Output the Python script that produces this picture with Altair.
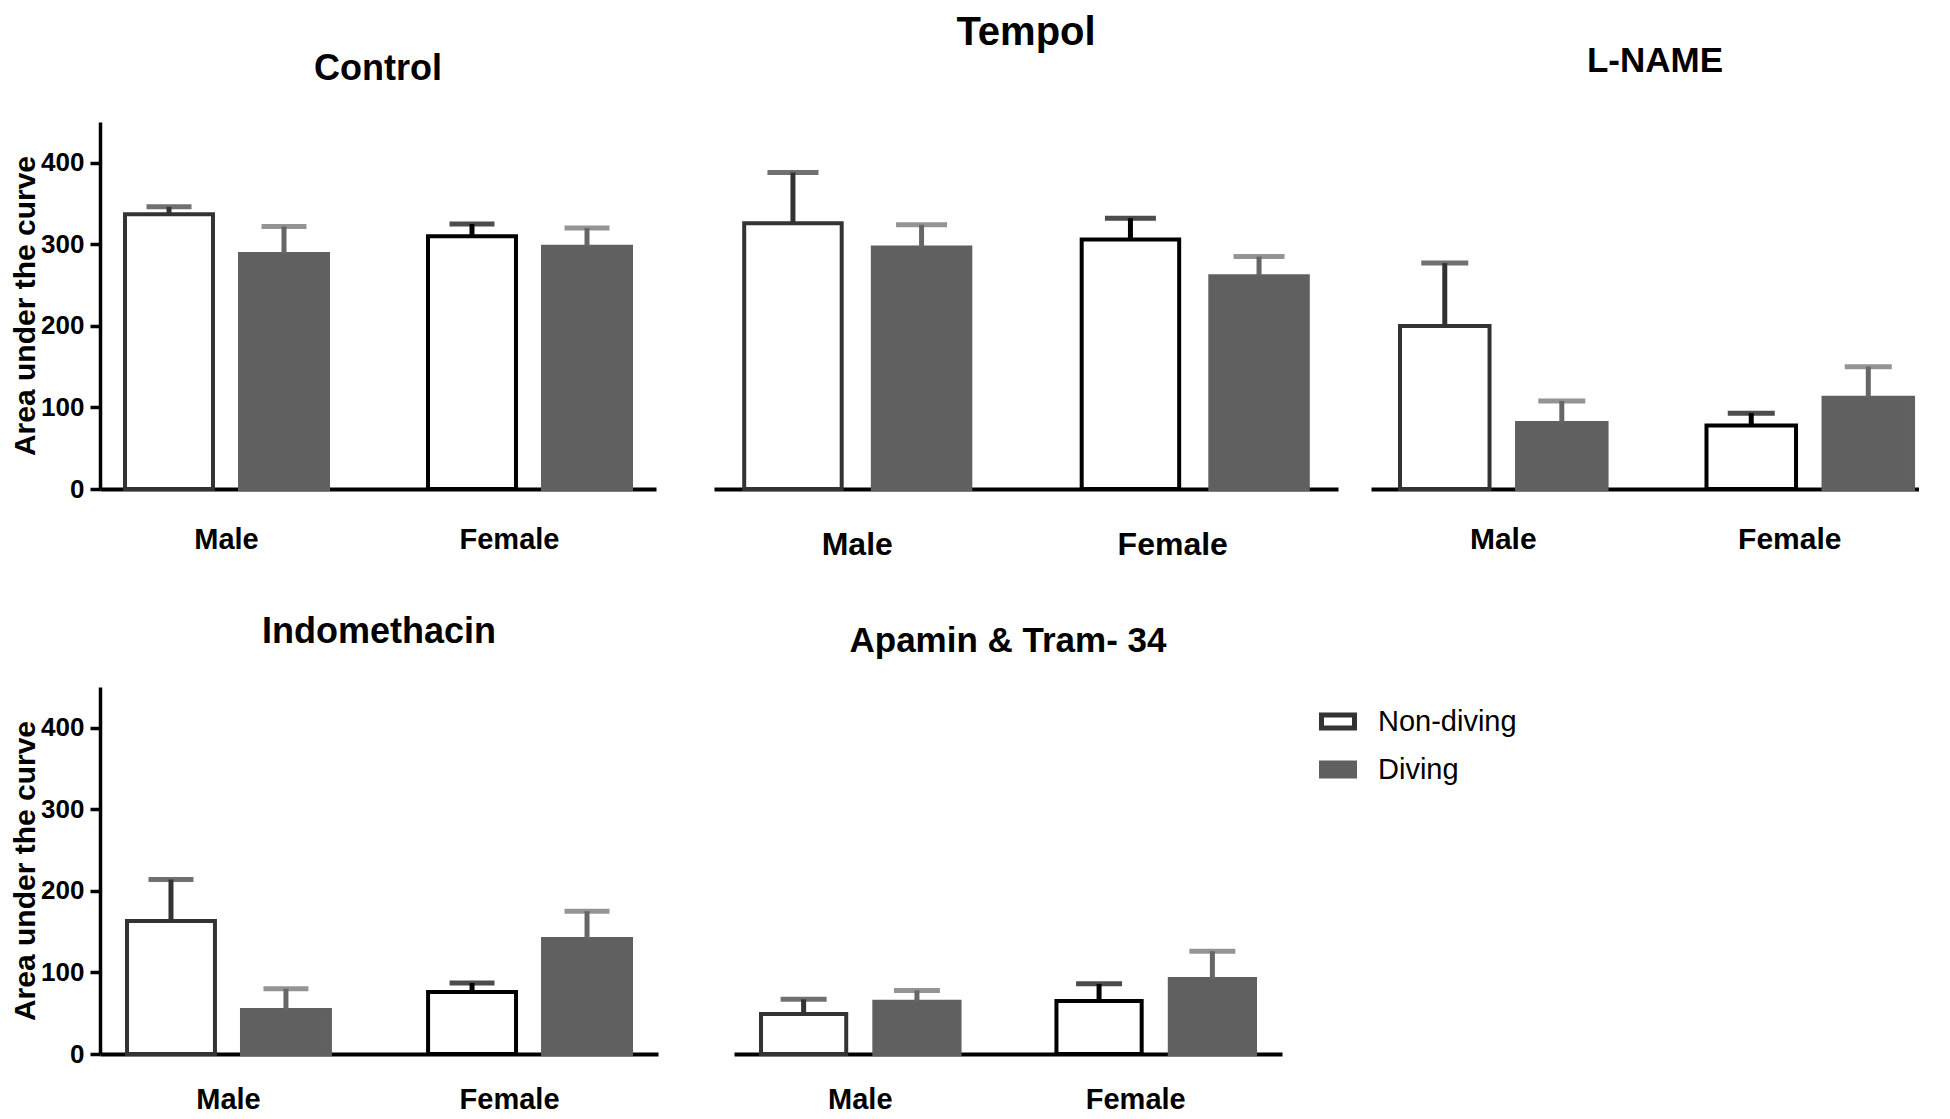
import altair as alt
import pandas as pd

# ---------------- data ----------------
treatments = ["Control", "Tempol", "L-NAME", "Indomethacin", "Apamin & Tram- 34"]
sexes = ["Male", "Female"]
groups = ["Non-diving", "Diving"]

male_nondiving_mean = [337, 326, 200, 163, 49]
male_nondiving_sem = [9, 62, 77, 51, 18]
male_diving_mean = [288, 296, 81, 54, 64]
male_diving_sem = [34, 28, 27, 26, 14]
female_nondiving_mean = [310, 306, 78, 76, 65]
female_nondiving_sem = [15, 26, 15, 11, 21]
female_diving_mean = [297, 261, 112, 141, 92]
female_diving_sem = [23, 24, 38, 34, 34]

y_ticks = [0, 100, 200, 300, 400]
y_title = "Area under the curve"

series = {
    ("Male", "Non-diving"): (male_nondiving_mean, male_nondiving_sem),
    ("Male", "Diving"): (male_diving_mean, male_diving_sem),
    ("Female", "Non-diving"): (female_nondiving_mean, female_nondiving_sem),
    ("Female", "Diving"): (female_diving_mean, female_diving_sem),
}
rows = []
for (sex, grp), (means, sems) in series.items():
    for t, m, s in zip(treatments, means, sems):
        rows.append({"treatment": t, "sex": sex, "group": grp, "mean": m, "sem": s})
df = pd.DataFrame(rows)
df["upper"] = df["mean"] + df["sem"]

FONT = "Liberation Sans"
PLOT_H = 367


def panel(name, width, pad_in, pad_out, align, sub_pad, cap, title_size, title_offset,
          label_size, label_pad, y_mode, legend=False, title_dx=0, female_shift=-20):
    d = df[df.treatment == name]
    x = alt.X(
        "sex:N", sort=sexes,
        scale=alt.Scale(paddingInner=pad_in, paddingOuter=pad_out, align=align),
        axis=alt.Axis(title=None, labelFontSize=label_size, labelFont=FONT,
                      labelFontWeight="bold", labelColor="black", labelAngle=0,
                      ticks=False, tickSize=0, labelPadding=label_pad,
                      labelOffset={"condition": {"test": "datum.value === 'Female'",
                                                 "value": female_shift},
                                   "value": 0},
                      domainColor="black", domainWidth=4, grid=False),
    )
    xo = alt.XOffset("group:N", sort=groups,
                     scale=alt.Scale(paddingInner=sub_pad, paddingOuter=0))
    if y_mode == "axis":
        yaxis = alt.Axis(values=y_ticks, title=y_title, titleFontSize=30, titleFont=FONT,
                         titleFontWeight="bold", titleColor="black", titlePadding=0,
                         labelFontSize=26, labelFont=FONT, labelFontWeight="bold",
                         labelColor="black", labelPadding=6, tickSize=10, tickWidth=3.5,
                         tickColor="black", domainColor="black", domainWidth=3.5, grid=False)
    elif y_mode == "space":
        yaxis = alt.Axis(labels=False, ticks=False, domain=False, grid=False, title=None,
                         minExtent=25, maxExtent=25)
    else:
        yaxis = None
    yscale = alt.Scale(domain=[0, 450], nice=False)

    if legend:
        leg = alt.Legend(title=None, orient="none", legendX=585, legendY=15.5,
                         symbolType="M-1,-0.394L1,-0.394L1,0.394L-1,0.394Z",
                         symbolSize=1089, symbolStrokeWidth=5,
                         labelFontSize=29, labelFont=FONT, labelColor="black",
                         labelOffset=21, rowPadding=12, padding=0)
    else:
        leg = None

    base = alt.Chart(d)
    bars = base.mark_bar(strokeWidth=4, strokeJoin="miter").encode(
        x=x, xOffset=xo,
        y=alt.Y("mean:Q", scale=yscale, axis=yaxis),
        fill=alt.Fill("group:N", sort=groups,
                      scale=alt.Scale(domain=groups, range=["#ffffff", "#606060"]),
                      legend=leg),
        stroke=alt.condition(
            "datum.group == 'Non-diving' && datum.sex == 'Female'",
            alt.value("#000000"),
            alt.Stroke("group:N", sort=groups,
                       scale=alt.Scale(domain=groups, range=["#333333", "#606060"]),
                       legend=leg),
        ),
    )
    eb = base.transform_calculate(
        ecol="datum.group == 'Diving' ? '#666666' : (datum.sex == 'Female' ? '#000000' : '#333333')"
    )
    rules = eb.mark_rule(strokeWidth=5).encode(
        x=x, xOffset=xo,
        y=alt.Y("mean:Q", scale=yscale, axis=yaxis),
        y2="upper:Q",
        color=alt.Color("ecol:N", scale=None),
    )
    caps = eb.mark_tick(thickness=5, size=cap).encode(
        x=x, xOffset=xo,
        y=alt.Y("upper:Q", scale=yscale, axis=yaxis),
        color=alt.Color("ecol:N", scale=None),
    )
    return alt.layer(bars, rules, caps).properties(
        width=width, height=PLOT_H,
        title=alt.TitleParams(name, fontSize=title_size, font=FONT, fontWeight="bold",
                              color="black", anchor="middle", frame="group",
                              baseline="alphabetic", offset=title_offset, dx=title_dx),
    )


control = panel("Control", 556, 0.330, 0.0825, 0.5, 0.235, 45, 36, 6, 29, 36, "axis")
tempol = panel("Tempol", 624, 0.330, 0.0895, 0.5, 0.242, 51, 40, 37, 32, 40, "space",
               female_shift=-22)
lname = panel("L-NAME", 548, 0.326, 0.057, 0.83, 0.235, 47, 35, 15, 30, 35, "none",
              title_dx=10)
indo = panel("Indomethacin", 558, 0.326, 0.0897, 0.5, 0.235, 45, 36, 8, 29, 31, "axis")
apamin = panel("Apamin & Tram- 34", 548, 0.328, 0.0914, 0.5, 0.248, 46, 35, 0, 29, 31,
               "none", legend=True)

RES = dict(fill="independent", stroke="independent", xOffset="independent")
row1 = alt.hconcat(control, tempol, lname, spacing=33).resolve_scale(**RES)
row2 = alt.hconcat(indo, apamin, spacing=76).resolve_scale(**RES)

chart = alt.vconcat(row1, row2, spacing=54).resolve_scale(**RES).properties(
    padding={"left": 2, "top": 5, "right": 0, "bottom": 0}, background="white"
).configure_view(stroke=None)

chart.save("out.html", embed_options={"renderer": "svg", "actions": False})
